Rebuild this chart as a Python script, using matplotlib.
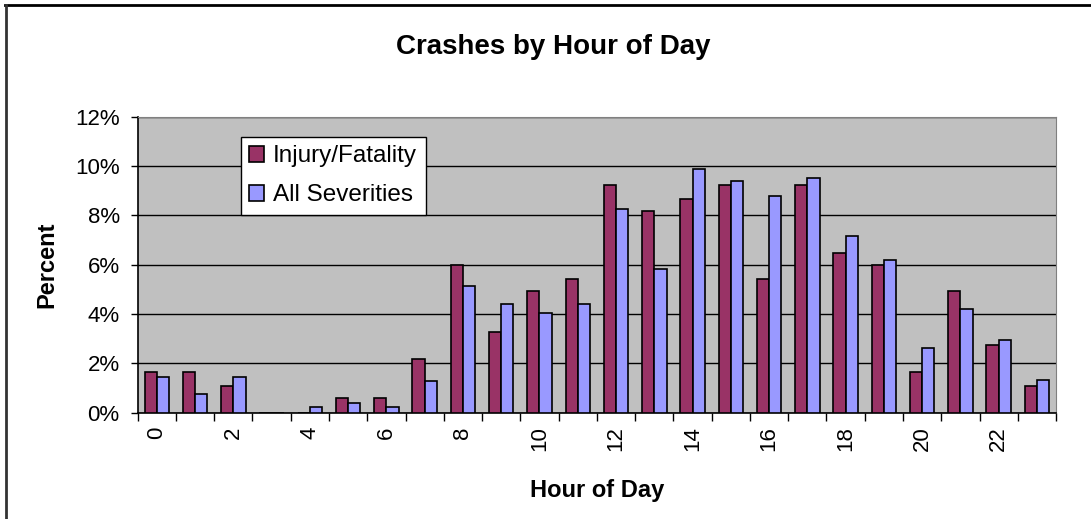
import numpy as np
import matplotlib.pyplot as plt
from matplotlib.lines import Line2D
from matplotlib.ticker import FuncFormatter

plt.rcParams['font.family'] = ['Liberation Sans', 'DejaVu Sans']

hours = np.arange(24)
injury_fatality = [1.66, 1.66, 1.09, 0.0, 0.0, 0.59, 0.59, 2.19, 6.0, 3.26, 4.92, 5.41,
                   9.23, 8.16, 8.66, 9.23, 5.41, 9.23, 6.49, 6.0, 1.66, 4.92, 2.74, 1.08]
all_severities = [1.46, 0.74, 1.46, 0.0, 0.24, 0.38, 0.24, 1.30, 5.14, 4.42, 4.05, 4.41,
                  8.24, 5.84, 9.89, 9.39, 8.80, 9.53, 7.15, 6.20, 2.61, 4.19, 2.96, 1.31]
tick_hours = hours[::2]

fig = plt.figure(figsize=(10.91, 5.19), dpi=100)
ax = fig.add_axes([0.1262, 0.2048, 0.8418, 0.5703])
ax.set_facecolor('#C0C0C0')

w = 0.32
ax.bar(hours - w / 2, injury_fatality, w, color='#993366', edgecolor='black',
       linewidth=1.2, label='Injury/Fatality', zorder=3)
ax.bar(hours + w / 2, all_severities, w, color='#9999FF', edgecolor='black',
       linewidth=1.2, label='All Severities', zorder=3)

ax.set_xlim(-0.5, 23.5)
ax.set_ylim(0, 12)
ax.set_yticks(np.arange(0, 13, 2))
ax.yaxis.set_major_formatter(FuncFormatter(lambda v, p: '%d%%' % v))
ax.grid(axis='y', color='black', linewidth=1, zorder=1)
ax.set_axisbelow(True)

# tick marks on category boundaries, labels at even hours
ax.set_xticks(np.arange(-0.5, 24, 1))
ax.set_xticklabels([])
ax.set_xticks(tick_hours, [str(h) for h in tick_hours], minor=True)
ax.tick_params(axis='x', which='major', length=6, width=1, direction='out')
ax.tick_params(axis='x', which='minor', length=0, labelsize=16, rotation=90, pad=10)
ax.tick_params(axis='y', length=5, width=1, labelsize=16, pad=8)

for side in ['left', 'bottom']:
    ax.spines[side].set_linewidth(1.2)
for side in ['top', 'right']:
    ax.spines[side].set_color('#808080')

ax.set_ylabel('Percent', fontsize=17, fontweight='bold', labelpad=12)
ax.set_xlabel('Hour of Day', fontsize=17, fontweight='bold', labelpad=20)

fig.text(553 / 1091, 1 - 47 / 519, 'Crashes by Hour of Day', fontsize=20,
         fontweight='bold', ha='center', va='center')

leg = ax.legend(loc='upper left', bbox_to_anchor=(0.112, 0.932), borderaxespad=0,
                fontsize=17.5, frameon=True, fancybox=False, framealpha=1,
                edgecolor='black', handlelength=0.62, handleheight=0.62,
                handletextpad=0.37, labelspacing=0.7, borderpad=0.35)
leg.get_frame().set_linewidth(1)

# chart border (top and left edges visible)
fig.add_artist(Line2D([5 / 1091, 1], [1 - 5 / 519, 1 - 5 / 519], color='black', linewidth=2))
fig.add_artist(Line2D([6 / 1091, 6 / 1091], [0, 1 - 5 / 519], color='#333333', linewidth=2))

fig.savefig('out.png', dpi=100)
